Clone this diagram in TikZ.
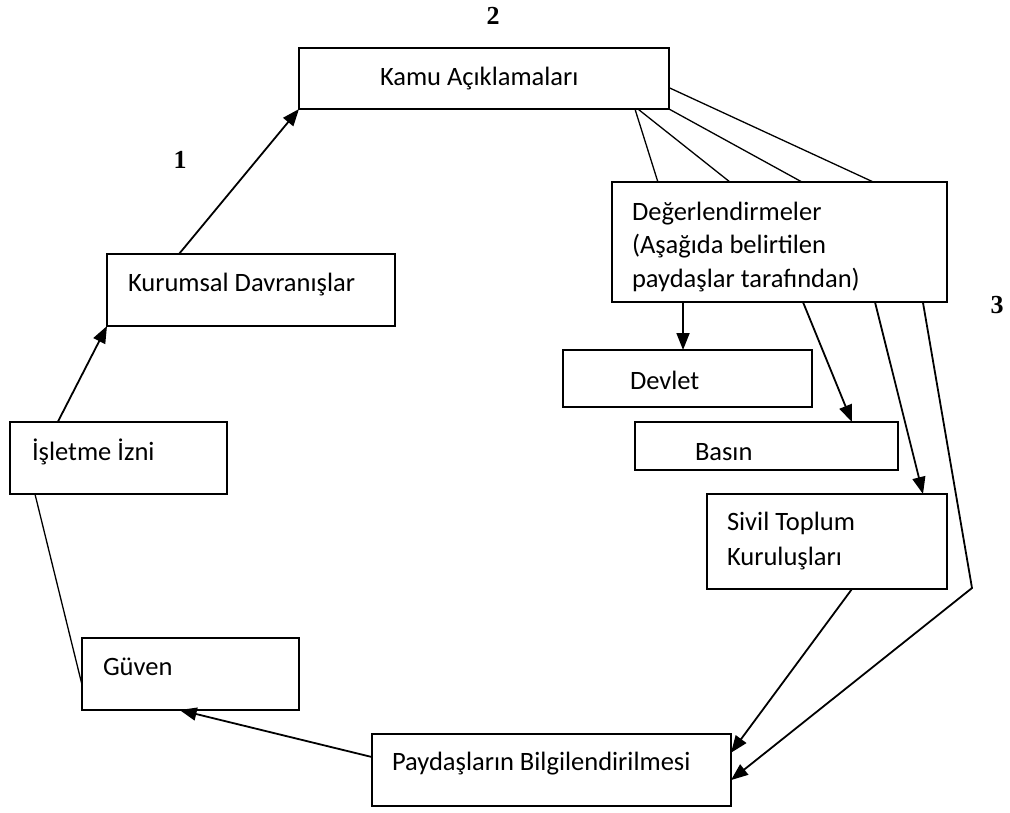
\documentclass[tikz,border=0pt]{standalone}
\usepackage{fontspec}
\setmainfont{Carlito}
\newfontfamily\sayifont{Liberation Serif}
\usetikzlibrary{arrows.meta,calc}

\tikzset{
  kutu/.style={draw, line width=1.6pt, outer sep=0pt, anchor=north west, align=flush left,
    inner ysep=0pt, text height=37pt, font=\fontsize{26.5}{33.5}\selectfont},
  ok/.style={line width=1.8pt, -{Triangle[length=17pt,width=13pt]}},
  cizgi/.style={line width=1.3pt},
  sayi/.style={font=\sayifont\bfseries\fontsize{26}{30}\selectfont}
}

\begin{document}
\begin{tikzpicture}[x=1pt,y=-1pt]
  \useasboundingbox (0,0) rectangle (1010,812);

  % kutular
  \node[kutu, text width=208pt, inner xsep=81pt, text depth=24pt] (kamu) at (299,48) {Kamu Açıklamaları};
  \node[kutu, text width=246pt, inner xsep=21pt, text depth=35pt] (kurumsal) at (107,254) {Kurumsal Davranışlar};
  \node[kutu, text width=173pt, inner xsep=22pt, text height=38pt, text depth=34pt] (isletme) at (10,422) {İşletme İzni};
  \node[kutu, text width=175pt, inner xsep=21pt, text depth=35pt] (guven) at (82,638) {Güven};
  \node[kutu, text width=319pt, inner xsep=20pt, text height=36pt, text depth=36pt] (paydas) at (372,734) {Paydaşların Bilgilendirilmesi};
  \node[kutu, text width=295pt, inner xsep=20pt, text height=38pt, text depth=82pt] (deger) at (612,182) {Değerlendirmeler\\(Aşağıda belirtilen\\paydaşlar tarafından)};
  \node[kutu, text width=115pt, inner xsep=67pt, text height=39pt, text depth=18pt] (devlet) at (563,350) {Devlet};
  \node[kutu, text width=143pt, inner xsep=60pt, text height=38pt, text depth=10pt] (basin) at (635,422) {Basın};
  \node[kutu, text width=200pt, inner xsep=20pt, text height=36pt, text depth=59pt, font=\fontsize{26.5}{35}\selectfont] (sivil) at (707,494) {Sivil Toplum\\Kuruluşları};

  % sayilar
  \node[sayi] (bir) at (180,160) {1};
  \node[sayi] (iki) at (493,16) {2};
  \node[sayi] (uc) at (997,305) {3};

  % sol taraf
  \draw[ok] ($(kurumsal.north west)!0.25!(kurumsal.north east)$) -- (kamu.south west);
  \draw[ok] ($(isletme.north west)!0.22!(isletme.north east)$) -- (kurumsal.south west);
  \draw[cizgi] ($(guven.north west)!0.65!(guven.south west)$) -- ($(isletme.south west)!0.115!(isletme.south east)$);
  \draw[ok] ($(paydas.north west)!0.32!(paydas.south west)$) -- ($(guven.south west)!0.45!(guven.south east)$);

  % kamu -> degerlendirmeler
  \draw[cizgi] ($(kamu.south west)!0.908!(kamu.south east)$) -- ($(deger.north west)!0.137!(deger.north east)$);
  \draw[cizgi] ($(kamu.south west)!0.916!(kamu.south east)$) -- ($(deger.north west)!0.352!(deger.north east)$);
  \draw[cizgi] (kamu.south east) -- ($(deger.north west)!0.567!(deger.north east)$);
  \draw[cizgi] ($(kamu.north east)!0.65!(kamu.south east)$) -- ($(deger.north west)!0.78!(deger.north east)$);

  % paydaslar
  \coordinate (d1) at ($(deger.south west)!0.212!(deger.south east)$);
  \draw[ok] (d1) -- (d1 |- devlet.north);
  \draw[ok] ($(deger.south west)!0.57!(deger.south east)$) -- ($(basin.north west)!0.825!(basin.north east)$);
  \draw[ok] ($(deger.south west)!0.785!(deger.south east)$) -- ($(sivil.north west)!0.9!(sivil.north east)$);
  \coordinate (kose) at (972,588);
  \draw[ok] ($(deger.south west)!0.928!(deger.south east)$) -- (kose) -- ($(paydas.north east)!0.64!(paydas.south east)$);
  \draw[ok] ($(sivil.south west)!0.604!(sivil.south east)$) -- ($(paydas.north east)!0.26!(paydas.south east)$);
\end{tikzpicture}
\end{document}
